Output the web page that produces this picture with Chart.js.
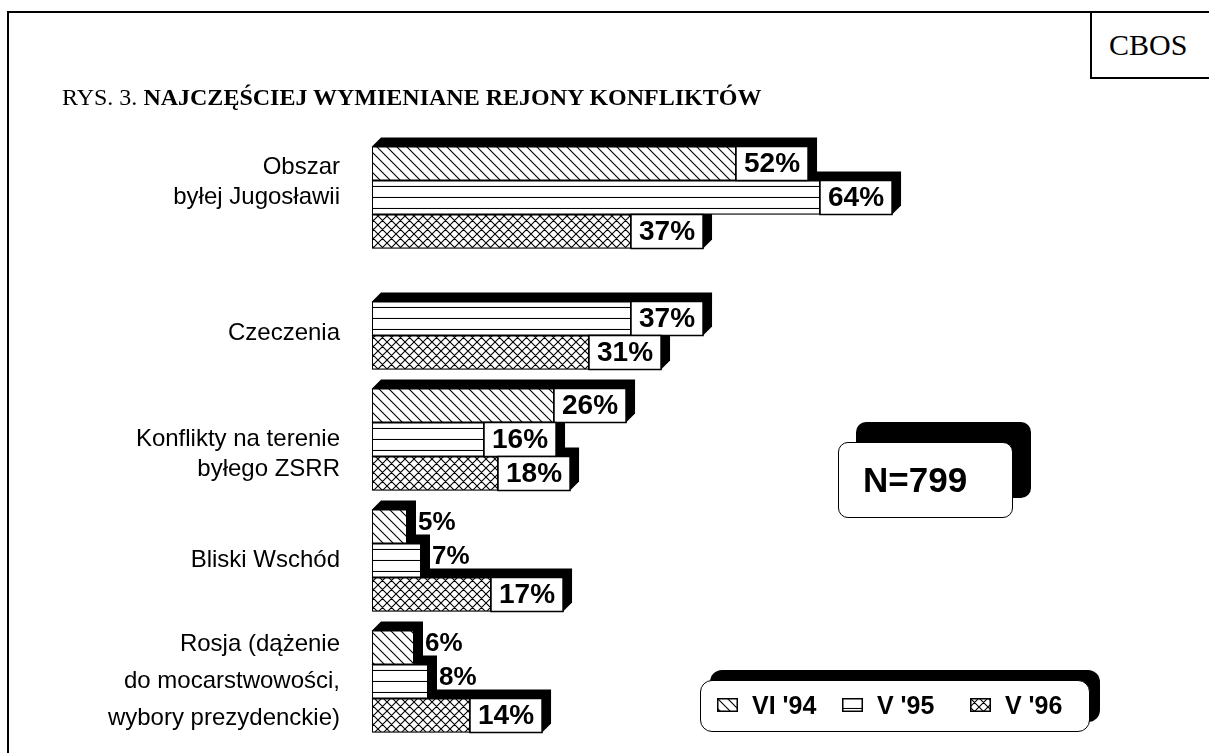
<!DOCTYPE html>
<html>
<head>
<meta charset="utf-8">
<script src="https://cdn.jsdelivr.net/npm/chart.js@4"></script>
<style>
body { margin: 0; background: #fff; }
#wrap { position: relative; width: 1209px; height: 753px; overflow: hidden; background: #fff; }
#chart { position: absolute; left: 0; top: 0; }
.frame-top { position: absolute; left: 7px; top: 11px; width: 1300px; height: 2px; background: #000; }
.frame-left { position: absolute; left: 7px; top: 11px; width: 2px; height: 800px; background: #000; }
#cbos { position: absolute; left: 1090px; top: 11px; width: 140px; height: 64px; border: 2px solid #000; background: #fff;
  font: 30px "Liberation Serif", "Times New Roman", serif; line-height: 64px; padding-left: 17px; box-sizing: content-box; }
#title { position: absolute; left: 62px; top: 84px; font: 24px "Liberation Serif", "Times New Roman", serif; white-space: nowrap; }
#title b { font-weight: bold; }
#nbox { position: absolute; left: 838px; top: 442px; width: 175px; height: 76px; border: 1.5px solid #000; border-radius: 10px;
  background: #fff; box-shadow: 18px -20px 0 #000; font: bold 35px "Liberation Sans", Arial, sans-serif; line-height: 74px; padding-left: 24px; box-sizing: border-box; }
#legend { position: absolute; left: 700px; top: 680px; width: 390px; height: 52px; border: 1.5px solid #000; border-radius: 12px;
  background: #fff; box-shadow: 10px -10px 0 #000; box-sizing: border-box; }
.lg-item { position: absolute; top: 0; height: 49px; font: bold 25px "Liberation Sans", Arial, sans-serif; line-height: 49px; white-space: nowrap; }
.lg-item canvas { position: absolute; left: 0; top: 17px; }
.lg-item span { position: absolute; left: 35px; top: 0; }
</style>
</head>
<body>
<div id="wrap">
  <canvas id="chart" width="1209" height="753"></canvas>
  <div class="frame-top"></div>
  <div class="frame-left"></div>
  <div id="cbos">CBOS</div>
  <div id="title">RYS. 3. <b>NAJCZĘŚCIEJ WYMIENIANE REJONY KONFLIKTÓW</b></div>
  <div id="nbox">N=799</div>
  <div id="legend"></div>
</div>
<script>
// regions (categories)
const categories = [
    ['Obszar', 'byłej Jugosławii'],
    'Czeczenia',
    ['Konflikty na terenie', 'byłego ZSRR'],
    'Bliski Wschód',
    ['Rosja (dążenie', 'do mocarstwowości,', 'wybory prezydenckie)']
];
const seriesNames = ["VI '94", "V '95", "V '96"];
const vi94 = [52, null, 26, 5, 6];
const v95 = [64, 37, 16, 7, 8];
const v96 = [37, 31, 18, 17, 14];

// blank line added above (+1) or below (-1) a label to nudge it
const labelNudge = [-1, 1, 1, 0, 0];
const pctFont = 'bold 28px "Liberation Sans", Arial, sans-serif';
const smallPctFont = 'bold 26px "Liberation Sans", Arial, sans-serif';
const SHADOW = 9;

// hatch patterns
function makeTile(kind) {
    const s = kind === 'cross' ? 9 : (kind === 'diag' ? 10 : 11);
    const c = document.createElement('canvas');
    c.width = s; c.height = s;
    const g = c.getContext('2d');
    g.fillStyle = '#fff';
    g.fillRect(0, 0, s, s);
    g.strokeStyle = '#000';
    g.lineWidth = 1.1;
    g.beginPath();
    if (kind === 'diag' || kind === 'cross') {
        for (const k of [-s, 0, s]) { g.moveTo(k - 1, -1); g.lineTo(k + s + 1, s + 1); }
    }
    if (kind === 'cross') {
        for (const k of [-s, 0, s]) { g.moveTo(k - 1, s + 1); g.lineTo(k + s + 1, -1); }
    }
    if (kind === 'horiz') {
        g.moveTo(0, s - 0.5); g.lineTo(s, s - 0.5);
    }
    g.stroke();
    return c;
}
const ctx = document.getElementById('chart').getContext('2d');
const tiles = [makeTile('diag'), makeTile('horiz'), makeTile('cross')];
const patterns = tiles.map(t => ctx.createPattern(t, 'repeat'));

// shadows behind bars, label boxes after
const barDeco = {
    id: 'barDeco',
    geom(chart, el, value) {
        const c = chart.ctx;
        const boxed = value >= 10;
        c.font = boxed ? pctFont : smallPctFont;
        const tw = c.measureText(value + '%').width;
        const boxW = boxed ? tw + 16 : 0;
        const h = el.height;
        return { x0: el.base, xb: el.x, x1: el.x + boxW, yT: el.y - h / 2, yB: el.y + h / 2, boxed: boxed };
    },
    each(chart, fn) {
        chart.data.datasets.forEach((ds, i) => {
            const meta = chart.getDatasetMeta(i);
            meta.data.forEach((el, j) => {
                const v = ds.data[j];
                if (v === null || v === undefined) return;
                fn(this.geom(chart, el, v), v);
            });
        });
    },
    beforeDatasetsDraw(chart) {
        const c = chart.ctx;
        c.save();
        c.fillStyle = '#000';
        this.each(chart, g => {
            const d = SHADOW;
            c.beginPath();
            c.moveTo(g.x0, g.yT);
            c.lineTo(g.x0 + d, g.yT - d);
            c.lineTo(g.x1 + d, g.yT - d);
            c.lineTo(g.x1 + d, g.yB - d);
            c.lineTo(g.x1, g.yB);
            c.lineTo(g.x0, g.yB);
            c.closePath();
            c.fill();
        });
        c.restore();
    },
    afterDatasetsDraw(chart) {
        const c = chart.ctx;
        c.save();
        this.each(chart, (g, v) => {
            c.fillStyle = '#000';
            c.textBaseline = 'middle';
            if (g.boxed) {
                c.fillStyle = '#fff';
                c.fillRect(g.xb, g.yT, g.x1 - g.xb, g.yB - g.yT);
                c.strokeStyle = '#000';
                c.lineWidth = 1.5;
                c.strokeRect(g.xb, g.yT, g.x1 - g.xb, g.yB - g.yT);
                c.fillStyle = '#000';
                c.font = pctFont;
                c.textAlign = 'center';
                c.fillText(v + '%', (g.xb + g.x1) / 2, (g.yT + g.yB) / 2 + 1);
            } else {
                c.font = smallPctFont;
                c.textAlign = 'left';
                c.fillText(v + '%', g.x1 + SHADOW + 2, (g.yT + g.yB) / 2 - 4);
            }
        });
        c.restore();
    }
};

const seriesData = [vi94, v95, v96];
const chart = new Chart(ctx, {
    type: 'bar',
    data: {
        labels: categories,
        datasets: seriesData.map((d, i) => ({
            label: seriesNames[i],
            data: d,
            backgroundColor: patterns[i],
            borderColor: '#000',
            borderWidth: 1,
            borderSkipped: false,
            categoryPercentage: 102 / 121,
            barPercentage: 1.0
        }))
    },
    options: {
        indexAxis: 'y',
        responsive: false,
        animation: false,
        devicePixelRatio: 1,
        layout: { padding: { top: 137, bottom: 11, left: 0, right: 137 } },
        plugins: { legend: { display: false }, tooltip: { enabled: false } },
        scales: {
            x: { min: 0, max: 100, display: false },
            y: {
                grid: { display: false, drawTicks: false },
                border: { display: false },
                afterFit: s => { s.width = 372; s.paddingTop = 0; s.paddingBottom = 0; },
                ticks: {
                    autoSkip: false,
                    padding: 32,
                    color: '#000',
                    font: c => ({ family: '"Liberation Sans", Arial, sans-serif', size: 24, lineHeight: c.index === 4 ? 1.54 : 1.25 }),
                    callback: (value, i) => {
                        const l = Array.isArray(categories[i]) ? categories[i].slice() : [categories[i]];
                        if (labelNudge[i] > 0) l.unshift('');
                        if (labelNudge[i] < 0) l.push('');
                        return l;
                    }
                }
            }
        }
    },
    plugins: [barDeco]
});

// legend
const legendEl = document.getElementById('legend');
const legendX = [16, 141, 269];
seriesNames.forEach((name, i) => {
    const item = document.createElement('div');
    item.className = 'lg-item';
    item.style.left = legendX[i] + 'px';
    const sw = document.createElement('canvas');
    sw.width = 21; sw.height = 14;
    const g = sw.getContext('2d');
    g.fillStyle = g.createPattern(tiles[i], 'repeat');
    g.fillRect(0, 0, 21, 14);
    g.strokeStyle = '#000';
    g.lineWidth = 1.5;
    g.strokeRect(0.75, 0.75, 19.5, 12.5);
    const txt = document.createElement('span');
    txt.textContent = name;
    item.appendChild(sw);
    item.appendChild(txt);
    legendEl.appendChild(item);
});
</script>
</body>
</html>
